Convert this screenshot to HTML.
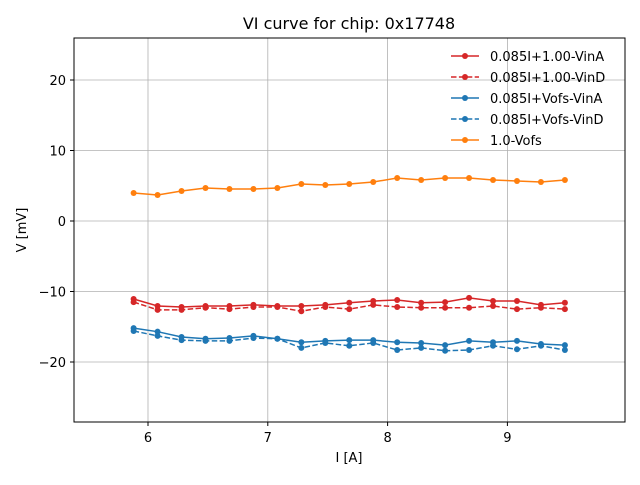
<!DOCTYPE html>
<html><head><meta charset="utf-8"><style>
body{margin:0;background:#fff;font-family:"Liberation Sans","DejaVu Sans",sans-serif}
svg text{font-family:"DejaVu Sans","Liberation Sans",sans-serif}
</style></head><body>
<svg id="chart" width="640" height="480" xmlns="http://www.w3.org/2000/svg">
<rect width="640" height="480" fill="#fff"/>
<text x="349" y="29" text-anchor="middle" font-size="16" fill="#000">VI curve for chip: 0x17748</text>
<g id="grid"></g><g id="series"></g>
<rect x="74" y="38" width="551" height="384" fill="none" stroke="#000" stroke-width="1"/>
<g id="axes"></g>
<text x="349" y="462" text-anchor="middle" font-size="13">I [A]</text>
<text transform="translate(26,230) rotate(-90)" text-anchor="middle" font-size="13">V [mV]</text>
<g id="legend"></g>
</svg>
<script>
const xs=[5.88,6.08,6.28,6.48,6.68,6.88,7.08,7.28,7.48,7.68,7.88,8.08,8.28,8.48,8.68,8.88,9.08,9.28,9.48];
const redA=[-11.06,-12.06,-12.2,-12.06,-12.06,-11.9,-12.06,-12.06,-11.9,-11.6,-11.35,-11.2,-11.6,-11.5,-10.9,-11.35,-11.35,-11.9,-11.6];
const redD=[-11.5,-12.6,-12.6,-12.3,-12.5,-12.2,-12.2,-12.8,-12.2,-12.5,-11.9,-12.2,-12.3,-12.3,-12.3,-12.06,-12.5,-12.3,-12.5];
const blueA=[-15.2,-15.7,-16.45,-16.7,-16.6,-16.3,-16.7,-17.2,-17.0,-16.9,-16.9,-17.2,-17.3,-17.6,-17.0,-17.2,-17.0,-17.45,-17.6];
const blueD=[-15.6,-16.3,-16.9,-17.0,-17.0,-16.6,-16.7,-18.0,-17.3,-17.7,-17.3,-18.3,-18.0,-18.4,-18.3,-17.7,-18.2,-17.7,-18.3];
const orange=[3.97,3.69,4.26,4.68,4.54,4.54,4.68,5.25,5.11,5.25,5.53,6.1,5.82,6.1,6.1,5.82,5.67,5.53,5.82];
const xTicks=[6,7,8,9];
const yTicks=[-20,-10,0,10,20];
const legendLabels=["0.085I+1.00-VinA","0.085I+1.00-VinD","0.085I+Vofs-VinA","0.085I+Vofs-VinD","1.0-Vofs"];
const NS="http://www.w3.org/2000/svg";
const X=v=>148+(v-6)*119.8;
const Y=v=>221-(v)*7.05;
function mk(tag,attrs,parent){const e=document.createElementNS(NS,tag);for(const k in attrs)e.setAttribute(k,attrs[k]);parent.appendChild(e);return e;}
const grid=document.getElementById('grid'),axes=document.getElementById('axes');
xTicks.forEach(t=>{
  const g=mk('line',{x1:X(t),x2:X(t),y1:38,y2:422,stroke:'#b0b0b0','stroke-width':0.8},grid);
  
  
  mk('line',{x1:X(t),x2:X(t),y1:422,y2:426,stroke:'#000'},axes);
  const tx=mk('text',{x:X(t),y:442,'text-anchor':'middle','font-size':13},axes);tx.textContent=t;
  
  
});
yTicks.forEach(t=>{
  const g=mk('line',{x1:74,x2:625,y1:Y(t),y2:Y(t),stroke:'#b0b0b0','stroke-width':0.8},grid);
  
  
  mk('line',{x1:70,x2:74,y1:Y(t),y2:Y(t),stroke:'#000'},axes);
  const tx=mk('text',{x:66,y:Y(t)+5,'text-anchor':'end','font-size':13},axes);tx.textContent=(t<0?'\u2212'+(-t):t);
  
  
});
const series=[[redA,'#d62728',false,'series-red-vina'],[redD,'#d62728',true,'series-red-vind'],[blueA,'#1f77b4',false,'series-blue-vina'],[blueD,'#1f77b4',true,'series-blue-vind'],[orange,'#ff7f0e',false,'series-orange-vofs']];
const sg=document.getElementById('series');
series.forEach(([d,c,dash,name])=>{
  const g=mk('g',{},sg);
  
  
  const p=mk('polyline',{points:d.map((v,i)=>X(xs[i])+','+Y(v)).join(' '),fill:'none',stroke:c,'stroke-width':1.5},g);
  if(dash)p.setAttribute('stroke-dasharray','5.5,2.4');
  d.forEach((v,i)=>{const m=mk('circle',{cx:X(xs[i]),cy:Y(v),r:3,fill:c},g);
    
    });
});
const lg=document.getElementById('legend');
legendLabels.forEach((l,i)=>{
  const s=series[i],y=56+i*21;
  const g=mk('g',{},lg);
  
  
  const ln=mk('line',{x1:451,x2:479,y1:y,y2:y,stroke:s[1],'stroke-width':1.5},g);
  if(s[2])ln.setAttribute('stroke-dasharray','5.5,2.4');
  mk('circle',{cx:465,cy:y,r:3,fill:s[1]},g);
  const t=mk('text',{x:490,y:y+5,'font-size':13},g);t.textContent=l;
});
</script>
</body></html>
